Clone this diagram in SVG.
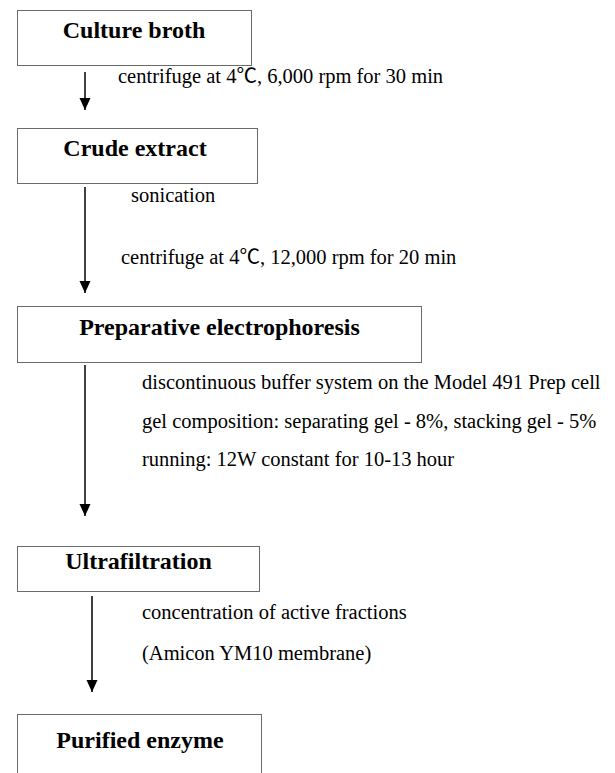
<svg xmlns="http://www.w3.org/2000/svg" width="615" height="773" viewBox="0 0 615 773">
<style>
.box{fill:#fff;stroke:#6b6b6b;stroke-width:1}
.title{font-family:"Liberation Serif","Noto Sans CJK KR",serif;font-weight:bold;font-size:24px;fill:#000;text-anchor:middle}
.note{font-family:"Liberation Serif","Noto Sans CJK KR",serif;font-size:20.5px;fill:#000}
.arrow{stroke:#000;stroke-width:1.5;fill:none;marker-end:url(#ah)}
</style>
<defs>
<marker id="ah" markerUnits="userSpaceOnUse" markerWidth="12" markerHeight="12" refX="12" refY="5.5" orient="auto">
<path d="M0,0 L12,5.5 L0,11 z" fill="#000"/>
</marker>
</defs>
<rect width="615" height="773" fill="#fff"/>
<g id="connectors">
<line class="arrow" x1="85" y1="72" x2="85" y2="110"/>
<line class="arrow" x1="85" y1="187" x2="85" y2="293"/>
<line class="arrow" x1="85" y1="365" x2="85" y2="516"/>
<line class="arrow" x1="92" y1="596" x2="92" y2="692"/>
</g>
<g id="culture-broth">
<rect class="box" x="17.5" y="10.5" width="234" height="55"/>
<text class="title" x="134" y="38">Culture broth</text>
</g>
<g id="crude-extract">
<rect class="box" x="17.5" y="128.5" width="240" height="55"/>
<text class="title" x="135" y="156">Crude extract</text>
</g>
<g id="preparative-electrophoresis">
<rect class="box" x="17.5" y="306.5" width="404" height="56"/>
<text class="title" x="219.5" y="335">Preparative electrophoresis</text>
</g>
<g id="ultrafiltration">
<rect class="box" x="17.5" y="546.5" width="242" height="45"/>
<text class="title" x="138.5" y="569">Ultrafiltration</text>
</g>
<g id="purified-enzyme">
<rect class="box" x="17.5" y="714.5" width="244" height="80"/>
<text class="title" x="140" y="748">Purified enzyme</text>
</g>
<g id="notes">
<text class="note" x="118" y="83">centrifuge at 4℃, 6,000 rpm for 30 min</text>
<text class="note" x="131" y="202">sonication</text>
<text class="note" x="121" y="264">centrifuge at 4℃, 12,000 rpm for 20 min</text>
<text class="note" x="142" y="389">discontinuous buffer system on the Model 491 Prep cell</text>
<text class="note" x="142" y="428">gel composition: separating gel - 8%, stacking gel - 5%</text>
<text class="note" x="142" y="466">running: 12W constant for 10-13 hour</text>
<text class="note" x="142" y="619">concentration of active fractions</text>
<text class="note" x="142" y="660">(Amicon YM10 membrane)</text>
</g>
</svg>
